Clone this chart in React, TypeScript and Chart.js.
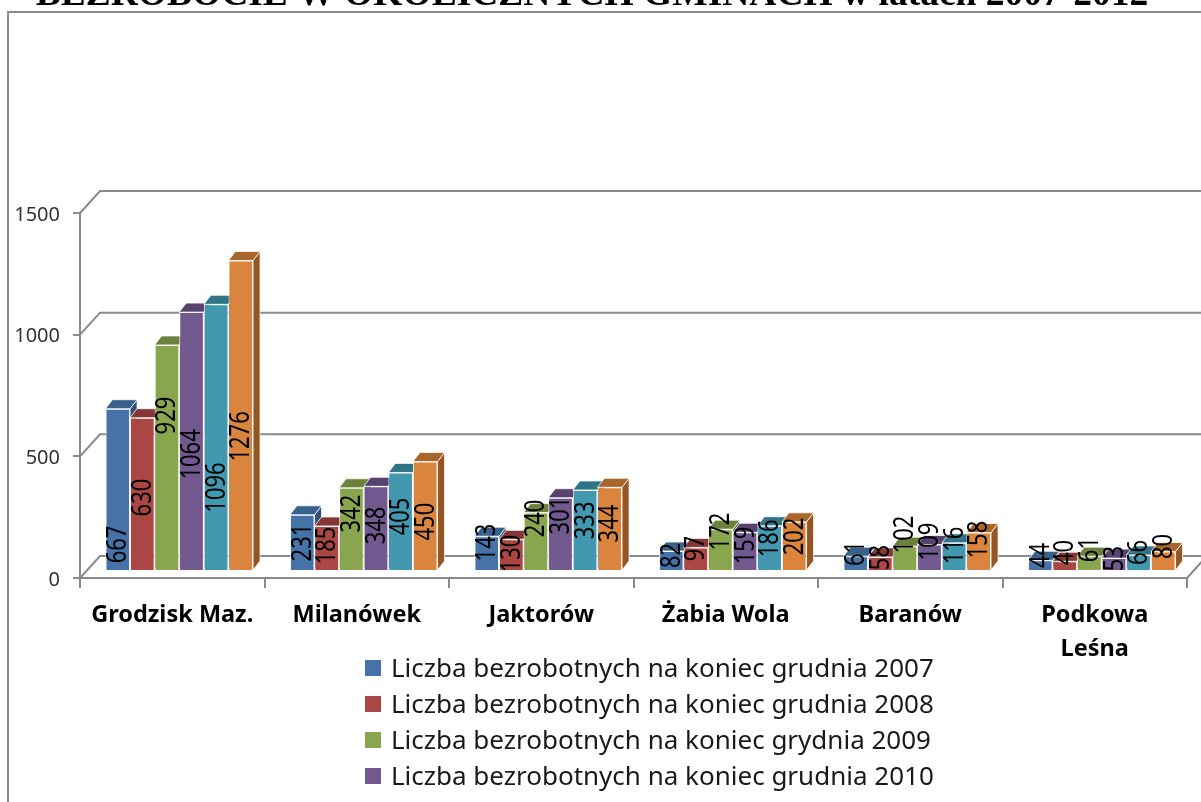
import React, { useEffect, useRef } from "react";
import { Chart, registerables } from "chart.js";

Chart.register(...registerables);

const titleText = "BEZROBOCIE W OKOLICZNYCH GMINACH w latach 2007-2012";
const categories = ["Grodzisk Maz.", "Milanówek", "Jaktorów", "Żabia Wola", "Baranów", ["Podkowa", "Leśna"]];
const seriesNames = [
  "Liczba bezrobotnych na koniec grudnia 2007",
  "Liczba bezrobotnych na koniec grudnia 2008",
  "Liczba bezrobotnych na koniec grydnia 2009",
  "Liczba bezrobotnych na koniec grudnia 2010",
  "Liczba bezrobotnych na koniec grudnia 2011",
  "Liczba bezrobotnych na koniec grudnia 2012",
];
const values2007 = [667, 231, 143, 82, 61, 44];
const values2008 = [630, 185, 130, 97, 58, 40];
const values2009 = [929, 342, 240, 172, 102, 61];
const values2010 = [1064, 348, 301, 159, 109, 53];
const values2011 = [1096, 405, 333, 186, 116, 66];
const values2012 = [1276, 450, 344, 202, 158, 80];
const allValues = [values2007, values2008, values2009, values2010, values2011, values2012];

// Height (in axis units) at which each rotated value label sits in the reference
const labelAt2007 = [109, 117, 117, 64, 72, 64];
const labelAt2008 = [302, 105, 72, 92, 55, 76];
const labelAt2009 = [639, 236, 216, 162, 150, 88];
const labelAt2010 = [479, 187, 228, 105, 121, 51];
const labelAt2011 = [343, 224, 208, 134, 105, 76];
const labelAt2012 = [553, 203, 195, 142, 129, 101];
const allLabelAt = [labelAt2007, labelAt2008, labelAt2009, labelAt2010, labelAt2011, labelAt2012];

const frontColors = ["#4572A7", "#AA4643", "#89A54E", "#71588F", "#4198AF", "#DB843D"];
const topColors = ["#38618C", "#853735", "#6C823C", "#574270", "#307587", "#A8652C"];
const sideColors = ["#2F5378", "#732F2D", "#5D7033", "#4A3860", "#296574", "#955624"];

const AXIS = "#8a8a8a";
const WALL_DX = 20;
const WALL_DY = 22;
const BAR_DX = 7;
const BAR_DY = 7;
const CAP_DX = 7;
const CAP_DY = 9;
const FONT = '"Noto Sans"';

const poly = (ctx: CanvasRenderingContext2D, pts: number[][], fill: string) => {
  ctx.beginPath();
  pts.forEach(([x, y], i) => (i ? ctx.lineTo(x, y) : ctx.moveTo(x, y)));
  ctx.closePath();
  ctx.fillStyle = fill;
  ctx.fill();
  ctx.lineWidth = 1;
  ctx.strokeStyle = "rgba(255,255,255,0.75)";
  ctx.stroke();
};

const scene3d = {
  id: "scene3d",
  beforeDraw(chart: any) {
    const { ctx, width, height } = chart;
    ctx.save();
    ctx.fillStyle = "#ffffff";
    ctx.fillRect(0, 0, width, height);
    ctx.strokeStyle = AXIS;
    ctx.lineWidth = 2;
    ctx.beginPath();
    ctx.moveTo(8, height);
    ctx.lineTo(8, 12);
    ctx.lineTo(width, 12);
    ctx.stroke();
    ctx.restore();
  },
  beforeDatasetsDraw(chart: any) {
    const { ctx, width, chartArea, scales } = chart;
    ctx.save();
    ctx.strokeStyle = AXIS;
    ctx.lineWidth = 2;
    ctx.beginPath();
    scales.y.ticks.forEach((t: any) => {
      const y = scales.y.getPixelForValue(t.value);
      ctx.moveTo(chartArea.left, y);
      ctx.lineTo(chartArea.left + WALL_DX, y - WALL_DY);
      ctx.lineTo(width, y - WALL_DY);
    });
    const y0 = scales.y.getPixelForValue(0);
    ctx.moveTo(chartArea.right, y0);
    ctx.lineTo(chartArea.right + WALL_DX, y0 - WALL_DY);
    ctx.stroke();
    ctx.restore();
    ctx.save();
    ctx.translate(BAR_DX, -BAR_DY);
    // Sides and tops go in series order; the fronts the library draws next sit over them.
    chart.data.datasets.forEach((_: any, i: number) => {
      chart.getDatasetMeta(i).data.forEach((bar: any) => {
        const l = bar.x - bar.width / 2;
        const r = bar.x + bar.width / 2;
        poly(ctx, [[r, bar.y], [r + CAP_DX, bar.y - CAP_DY], [r + CAP_DX, bar.base - CAP_DY], [r, bar.base]], sideColors[i]);
        poly(ctx, [[l, bar.y], [l + CAP_DX, bar.y - CAP_DY], [r + CAP_DX, bar.y - CAP_DY], [r, bar.y]], topColors[i]);
      });
    });
  },
  afterDatasetsDraw(chart: any) {
    const { ctx, scales } = chart;
    ctx.save();
    ctx.font = `22px ${FONT}`;
    ctx.fillStyle = "#000000";
    ctx.textAlign = "center";
    ctx.textBaseline = "middle";
    chart.data.datasets.forEach((ds: any, i: number) => {
      chart.getDatasetMeta(i).data.forEach((bar: any, j: number) => {
        ctx.save();
        ctx.translate(bar.x + 1, scales.y.getPixelForValue(allLabelAt[i][j]));
        ctx.rotate(-Math.PI / 2);
        ctx.scale(1, 1.2);
        ctx.fillText(String(ds.data[j]), 0, 0);
        ctx.restore();
      });
    });
    ctx.restore();
    ctx.restore();
  },
  afterDraw(chart: any) {
    const { ctx, height } = chart;
    ctx.save();
    ctx.fillStyle = "#000000";
    ctx.font = 'bold 37.5px "Liberation Serif"';
    ctx.textAlign = "center";
    ctx.textBaseline = "alphabetic";
    ctx.fillText(titleText, 592, 5);

    ctx.font = `26px ${FONT}`;
    ctx.textAlign = "left";
    ctx.textBaseline = "middle";
    chart.data.datasets.forEach((ds: any, i: number) => {
      const y = 668 + 36 * i;
      if (y > height) return;
      ctx.fillStyle = frontColors[i];
      ctx.fillRect(365, y - 8, 16, 16);
      ctx.fillStyle = "#1a1a1a";
      ctx.fillText(ds.label, 391, y + 2);
    });
    ctx.restore();
  },
};

export default function App() {
  const ref = useRef<HTMLCanvasElement>(null);
  useEffect(() => {
    const chart = new Chart(ref.current!, {
      type: "bar",
      data: {
        labels: categories as any,
        datasets: allValues.map((data, i) => ({
          label: seriesNames[i],
          data,
          backgroundColor: frontColors[i],
          borderColor: "rgba(255,255,255,0.9)",
          borderWidth: 1,
          clip: false as any,
          barPercentage: 1,
          categoryPercentage: 0.8,
        })),
      },
      options: {
        animation: false,
        responsive: false,
        layout: { padding: { left: 0, top: 213, right: 14, bottom: 0 } },
        plugins: { legend: { display: false }, title: { display: false }, tooltip: { enabled: false } },
        scales: {
          x: {
            afterFit: (s: any) => { s.height = 224; },
            border: { color: AXIS, width: 2 },
            grid: { drawOnChartArea: false, color: AXIS, lineWidth: 2, tickLength: 10 },
            ticks: {
              color: "#000000",
              padding: 10,
              maxRotation: 0,
              autoSkip: false,
              font: { family: "Noto Sans", size: 23.5, weight: "bold", lineHeight: 1.45 },
            },
          },
          y: {
            min: 0,
            max: 1500,
            afterFit: (s: any) => { s.width = 80; },
            border: { color: AXIS, width: 2 },
            grid: { drawOnChartArea: false, color: AXIS, lineWidth: 2, tickLength: 7 },
            ticks: {
              stepSize: 500,
              color: "#333333",
              padding: 13,
              labelOffset: 2,
              font: { family: "Noto Sans", size: 20 },
              callback: (v: any) => String(v),
            },
          },
        },
      },
      plugins: [scene3d as any],
    });
    return () => chart.destroy();
  }, []);
  return (
    <canvas
      ref={ref}
      width={1201}
      height={802}
      style={{ position: "absolute", left: 0, top: 0, display: "block", width: 1201, height: 802 }}
    />
  );
}
